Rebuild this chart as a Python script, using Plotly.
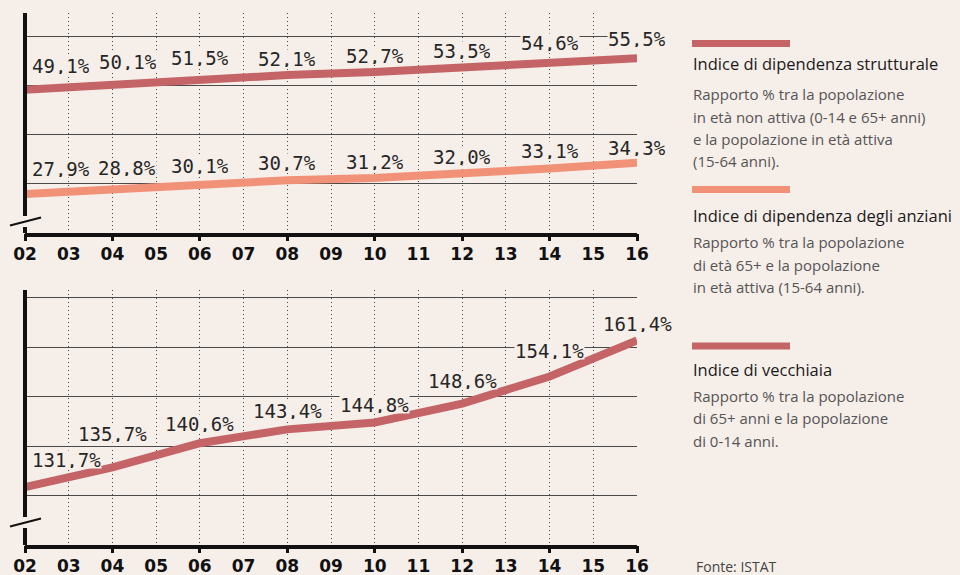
import plotly.graph_objects as go

# ---------------- data ----------------
years_all = list(range(2002, 2017))
tick_labels = ["02", "03", "04", "05", "06", "07", "08", "09",
               "10", "11", "12", "13", "14", "15", "16"]
years = [2002, 2004, 2006, 2008, 2010, 2012, 2014, 2016]
strutturale = [49.1, 50.1, 51.5, 52.1, 52.7, 53.5, 54.6, 55.5]
anziani = [27.9, 28.8, 30.1, 30.7, 31.2, 32.0, 33.1, 34.3]
vecchiaia = [131.7, 135.7, 140.6, 143.4, 144.8, 148.6, 154.1, 161.4]

legend_titles = ["Indice di dipendenza strutturale",
                 "Indice di dipendenza degli anziani",
                 "Indice di vecchiaia"]
legend_desc = [
    ["Rapporto % tra la popolazione", "in età non attiva (0-14 e 65+ anni)",
     "e la popolazione in età attiva", "(15-64 anni)."],
    ["Rapporto % tra la popolazione", "di età 65+ e la popolazione",
     "in età attiva (15-64 anni)."],
    ["Rapporto % tra la popolazione", "di 65+ anni e la popolazione",
     "di 0-14 anni."],
]
source_text = "Fonte: ISTAT"

# ---------------- style ----------------
BG = "#f6eee9"
C_STR = "#c46467"
C_ANZ = "#f19177"
C_VEC = "#c46467"
INK = "#111111"
W, H = 960, 575
ML, MR, MT, MB = 25, 323, 13, 30
PW, PH = W - ML - MR, H - MT - MB


def px_x(px):
    return (px - ML) / PW


def px_y(py):
    return (H - MB - py) / PH


def fmt(v):
    return f"{v:.1f}".replace(".", ",") + "%"


fig = go.Figure()
fig.add_trace(go.Scatter(x=years, y=strutturale, mode="lines", xaxis="x", yaxis="y",
                         line=dict(color=C_STR, width=8), hoverinfo="skip"))
fig.add_trace(go.Scatter(x=years, y=anziani, mode="lines", xaxis="x", yaxis="y",
                         line=dict(color=C_ANZ, width=8), hoverinfo="skip"))
fig.add_trace(go.Scatter(x=years, y=vecchiaia, mode="lines", xaxis="x2", yaxis="y2",
                         line=dict(color=C_VEC, width=8), hoverinfo="skip"))
# invisible carriers for the overlay tick axes (even-year tick marks)
fig.add_trace(go.Scatter(x=years, y=strutturale, mode="lines", xaxis="x3", yaxis="y",
                         line=dict(width=0), opacity=0, hoverinfo="skip"))
fig.add_trace(go.Scatter(x=years, y=vecchiaia, mode="lines", xaxis="x4", yaxis="y2",
                         line=dict(width=0), opacity=0, hoverinfo="skip"))

label_font = dict(family="DejaVu Sans Mono", size=19, color="#262626")
annotations = []


def add_labels(values, xref, yref, lifts, second_shift):
    for i, (x, v) in enumerate(zip(years, values)):
        a = dict(x=x, y=v, xref=xref, yref=yref, text=fmt(v), showarrow=False,
                 font=label_font, bgcolor=BG, borderpad=0, height=17,
                 valign="middle", yanchor="middle", xanchor="center", yshift=lifts[i])
        if i == 0:
            a["xanchor"] = "left"
            a["xshift"] = 6
        elif i == 1:
            a["xshift"] = second_shift
        annotations.append(a)


add_labels(strutturale, "x", "y", [24, 23, 20, 17, 17, 18, 20, 20], 16)
add_labels(anziani, "x", "y", [26, 22, 18, 18, 16, 17, 18, 15], 15)
add_labels(vecchiaia, "x2", "y2", [28, 34, 20, 19, 18, 23, 26, 17], 0)

# legend blocks on the right
title_font = dict(family="Open Sans", size=16.5, color="#1b1b1b")
desc_font = dict(family="Open Sans", size=15, color="#555555")
legend_blocks = [
    (C_STR, 43.5, 64, [94, 117, 139, 161]),
    (C_ANZ, 189.5, 215, [242, 265, 287]),
    (C_VEC, 346, 369, [396, 418, 441]),
]
shapes = []
for k, (col, bar_y, ty, dys) in enumerate(legend_blocks):
    shapes.append(dict(type="rect", xref="paper", yref="paper",
                       x0=px_x(692), x1=px_x(790), y0=px_y(bar_y - 3.5), y1=px_y(bar_y + 3.5),
                       fillcolor=col, line=dict(width=0)))
    annotations.append(dict(x=px_x(691), y=px_y(ty), xref="paper", yref="paper",
                            text=legend_titles[k], showarrow=False, font=title_font,
                            xanchor="left", yanchor="middle"))
    for line_txt, dy in zip(legend_desc[k], dys):
        annotations.append(dict(x=px_x(691), y=px_y(dy), xref="paper", yref="paper",
                                text=line_txt, showarrow=False, font=desc_font,
                                xanchor="left", yanchor="middle"))
annotations.append(dict(x=px_x(694), y=px_y(566), xref="paper", yref="paper",
                        text=source_text, showarrow=False,
                        font=dict(family="Open Sans", size=14, color="#444444"),
                        xanchor="left", yanchor="middle"))

# broken y axes (top chart: 13..233 px, bottom chart: 290..545 px)
for top, brk_a, brk_b, base in [(13, 216, 227, 233), (290, 517, 528, 545)]:
    shapes.append(dict(type="line", xref="paper", yref="paper", x0=0, x1=0,
                       y0=px_y(top), y1=px_y(brk_a), line=dict(color=INK, width=4)))
    shapes.append(dict(type="line", xref="paper", yref="paper", x0=0, x1=0,
                       y0=px_y(brk_b), y1=px_y(base), line=dict(color=INK, width=4)))
    mid = (brk_a + brk_b) / 2
    shapes.append(dict(type="line", xref="paper", yref="paper",
                       x0=px_x(10), x1=px_x(41), y0=px_y(mid + 4), y1=px_y(mid - 4),
                       line=dict(color=INK, width=2)))

xaxis_common = dict(
    range=[2002, 2016], tickvals=years_all, ticktext=tick_labels,
    ticks="outside", ticklen=3, tickcolor="rgba(0,0,0,0)",
    tickfont=dict(family="DejaVu Sans", size=17, color=INK, weight="bold"),
    showline=True, linewidth=4, linecolor=INK,
    showgrid=True, gridcolor="#444444", gridwidth=1, griddash="1px,3px",
    zeroline=False, fixedrange=True, automargin=False,
)
tick_overlay = dict(
    range=[2002, 2016], tickvals=years, ticks="outside", ticklen=7, tickwidth=3,
    tickcolor=INK, showticklabels=False, showgrid=False, showline=False,
    zeroline=False, fixedrange=True, side="bottom", automargin=False,
)
yaxis_common = dict(showline=False, showticklabels=False, ticks="",
                    tick0=0, dtick=10, showgrid=True, gridcolor="#4a4a4a",
                    gridwidth=1, zeroline=False, fixedrange=True, automargin=False)

fig.update_layout(
    width=W, height=H, paper_bgcolor=BG, plot_bgcolor=BG,
    margin=dict(l=ML, r=MR, t=MT, b=MB, autoexpand=False), showlegend=False,
    xaxis=dict(domain=[0, 1], anchor="y", **xaxis_common),
    yaxis=dict(domain=[px_y(233), 1], anchor="x", range=[20, 64.7], **yaxis_common),
    xaxis2=dict(domain=[0, 1], anchor="y2", **xaxis_common),
    yaxis2=dict(domain=[0, px_y(290)], anchor="x2", range=[120, 171.6], **yaxis_common),
    xaxis3=dict(overlaying="x", anchor="y", **tick_overlay),
    xaxis4=dict(overlaying="x2", anchor="y2", **tick_overlay),
    shapes=shapes, annotations=annotations,
)

fig.write_html("out.html",
               config={"displayModeBar": False, "staticPlot": True},
               post_script="document.body.style.margin='0';"
                           "document.body.style.overflow='hidden';")
